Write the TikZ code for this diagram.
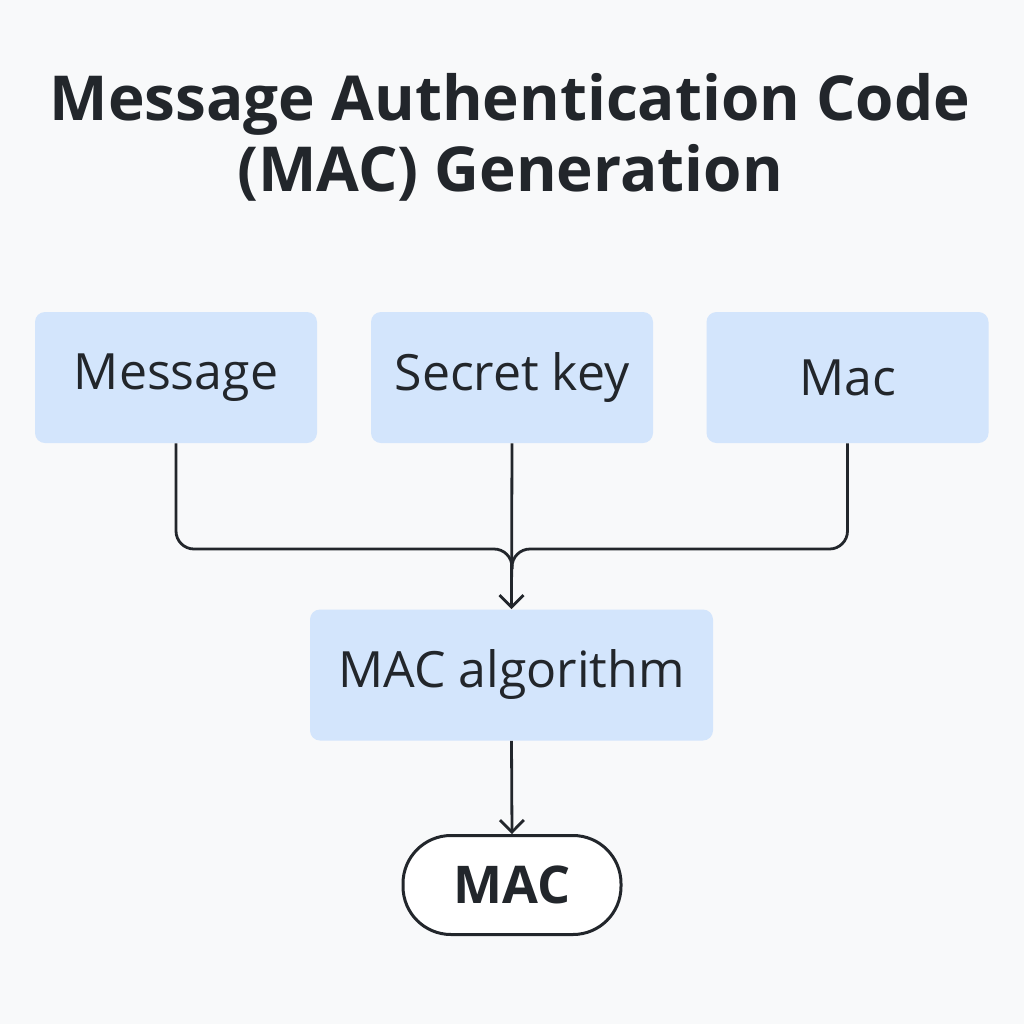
\documentclass[tikz,border=0pt]{standalone}
\usepackage{fontspec}
\setmainfont{Open Sans}
\usetikzlibrary{arrows.meta}
\definecolor{bgpaper}{HTML}{F8F9FA}
\definecolor{boxblue}{HTML}{D3E5FC}
\definecolor{inkdark}{HTML}{22262B}

\begin{document}
\begin{tikzpicture}[
  x=0.5pt, y=-0.5pt,
  input/.style={fill=boxblue, rounded corners=5pt,
                minimum width=141pt, minimum height=65.5pt,
                inner sep=0pt, align=center, text=inkdark,
                font=\fontsize{25}{29}\selectfont},
  algo/.style={input, minimum width=201.5pt},
  result/.style={draw=inkdark, line width=1.5pt, fill=white,
                 rounded corners=24pt, minimum width=109pt,
                 minimum height=49.5pt, inner sep=0pt, text=inkdark,
                 font=\fontsize{26}{30}\selectfont\bfseries},
  arr/.style={-{Straight Barb[length=6pt,width=12pt,line width=1.4pt]},
              line width=1.4pt, draw=inkdark},
  link/.style={line width=1.4pt, draw=inkdark, rounded corners=9pt}
]
  % Canvas
  \fill[bgpaper] (0,0) rectangle (1024,1024);
  \useasboundingbox (0,0) rectangle (1024,1024);

  % Title
  \node[text=inkdark, align=center, font=\fontsize{31}{35.5}\selectfont\bfseries]
    (title) at (510,137) {Message Authentication Code\\(MAC) Generation};

  % Inputs (top row)
  \node[input] at (176,377.5) (msg) {Message};
  \node[input] at (512,377.5) (key) {Secret key};
  \node[input] at (847.5,377.5) (mac) {Mac};

  % Algorithm and output
  \node[algo]   at (511.5,675) (alg) {MAC algorithm};
  \node[result] at (512,885)   (out) {MAC};

  % Merge point below the key
  \coordinate (j) at (key.south |- 0,549);

  % Side inputs join the key line
  \draw[link] (msg.south) |- (j) -- ++(0,20);
  \draw[link] (mac.south) |- (j) -- ++(0,20);

  % Main arrows
  \draw[arr] (key.south) -- (alg.north);
  \draw[arr] (alg.south) -- (out.north);

\end{tikzpicture}
\end{document}
